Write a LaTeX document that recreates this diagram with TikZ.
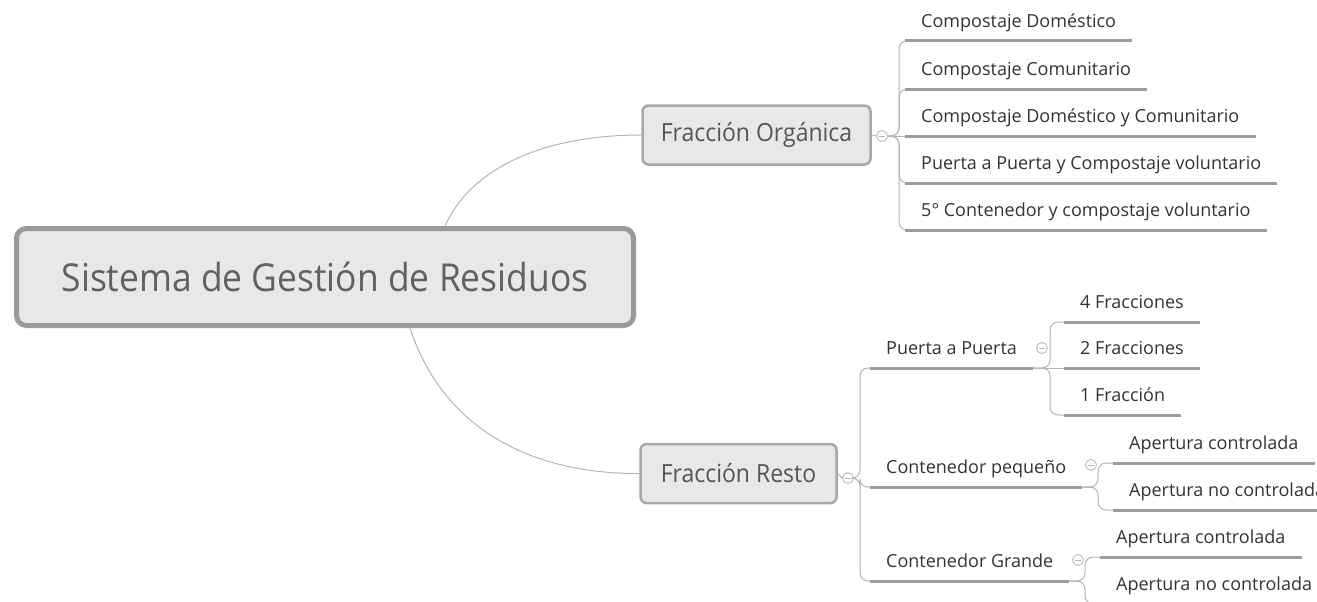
\documentclass[tikz,border=0pt]{standalone}
\usepackage{fontspec}
\setmainfont{Open Sans}
\newfontfamily\hfont{Open Sans}[FakeStretch=0.92]
\usetikzlibrary{calc}
\definecolor{mainborder}{HTML}{9A9A9A}
\definecolor{boxfill}{HTML}{E8E8E8}
\definecolor{subborder}{HTML}{A8A8A8}
\definecolor{maintext}{HTML}{616161}
\definecolor{subtext}{HTML}{555555}
\definecolor{leaftext}{HTML}{333333}
\definecolor{ulinec}{HTML}{9C9C9C}
\definecolor{brline}{HTML}{B4B4B4}
\begin{document}
\begin{tikzpicture}[x=1pt,y=-1pt,
 mainbox/.style={draw=mainborder, fill=boxfill, line width=5pt, rounded corners=10pt, minimum width=617pt, minimum height=97pt, inner sep=0pt, font=\hfont\fontsize{38.5}{46}\selectfont, text=maintext},
 subbox/.style={draw=subborder, fill=boxfill, line width=2.5pt, rounded corners=6pt, minimum height=59pt, inner sep=0pt, font=\hfont\fontsize{25}{30}\selectfont, text=subtext},
 leaf/.style={anchor=south west, inner xsep=16pt, inner ysep=0pt, text depth=13pt, font=\fontsize{18}{22}\selectfont, text=leaftext},
 uline/.style={draw=ulinec, line width=3pt},
 br/.style={draw=brline, line width=1pt, rounded corners=8pt},
 conn/.style={draw=brline, line width=1pt},
 tog/.style={circle, draw=brline, fill=white, line width=0.8pt, minimum size=11pt, inner sep=0pt,
   path picture={\draw[brline, line width=0.8pt] ([xshift=-3pt]path picture bounding box.center) -- ([xshift=3pt]path picture bounding box.center);}}
]
\useasboundingbox (0,0) rectangle (1317,602);

% central and main topics
\node[mainbox] (main) at (325,277) {Sistema de Gestión de Residuos};
\node[subbox, minimum width=228pt] (org) at (756.5,135) {Fracción Orgánica};
\node[subbox, minimum width=196pt] (res) at (738.5,473.5) {Fracción Resto};

\coordinate (mt) at (445,226);
\coordinate (mb) at (410,328);
\draw[conn] (mt) .. controls (470,170) and (540,135) .. (org.west);
\draw[conn] (mb) .. controls (440,420) and (520,474) .. (res.west);

% Fraccion Organica
\node[tog] (otg) at (882,136) {};
\draw[conn] (org.east) -- (otg.west);
\node[leaf] (o1) at (905,41) {Compostaje Doméstico};
\node[leaf] (o2) at (905,89) {Compostaje Comunitario};
\node[leaf] (o3) at (905,136) {Compostaje Doméstico y Comunitario};
\node[leaf] (o4) at (905,183) {Puerta a Puerta y Compostaje voluntario};
\node[leaf] (o5) at (905,230) {5° Contenedor y compostaje voluntario};
\coordinate (ot) at (899,136);
\foreach \n in {o1,o2,o4,o5} \draw[br] (otg.east) -- (ot) |- ([xshift=8pt]\n.south west);
\draw[conn] (otg.east) -- (o3.south west);
\foreach \n in {o1,o2,o3,o4,o5} \draw[uline] (\n.south west) -- (\n.south east);

% Fraccion Resto
\node[tog] (rtg) at (848,478) {};
\draw[conn] (res.east) -- (rtg.west);
\node[leaf] (r1) at (870,368) {Puerta a Puerta};
\node[leaf] (r2) at (870,487) {Contenedor pequeño};
\node[leaf] (r3) at (870,581) {Contenedor Grande};
\coordinate (rt) at (860,478);
\foreach \n in {r1,r2,r3} \draw[br] (rtg.east) -- (rt) |- ([xshift=8pt]\n.south west);

% Puerta a Puerta
\node[tog] (ptg) at (1042,348) {};
\node[leaf] (g1) at (1064,322) {4 Fracciones};
\node[leaf] (g2) at (1064,368) {2 Fracciones};
\node[leaf] (g3) at (1064,415) {1 Fracción};
\coordinate (pt) at (1050,368);
\draw[conn] (r1.south east) -- (g2.south west);
\foreach \n in {g1,g3} \draw[br] (r1.south east) -- (pt) |- ([xshift=8pt]\n.south west);

% Contenedor pequeno
\node[tog] (ctg) at (1091,465) {};
\node[leaf] (a1) at (1113,463) {Apertura controlada};
\node[leaf] (a2) at (1113,510) {Apertura no controlada};
\coordinate (ct) at (1098,487);
\foreach \n in {a1,a2} \draw[br] (r2.south east) -- (ct) |- ([xshift=8pt]\n.south west);

% Contenedor Grande
\node[tog] (gtg) at (1078,560) {};
\node[leaf] (b1) at (1100,557) {Apertura controlada};
\node[leaf] (b2) at (1100,604) {Apertura no controlada};
\coordinate (gt) at (1085,581);
\foreach \n in {b1,b2} \draw[br] (r3.south east) -- (gt) |- ([xshift=8pt]\n.south west);

\foreach \n in {r1,r2,r3,g1,g2,g3,a1,a2,b1,b2} \draw[uline] (\n.south west) -- (\n.south east);
\end{tikzpicture}
\end{document}
